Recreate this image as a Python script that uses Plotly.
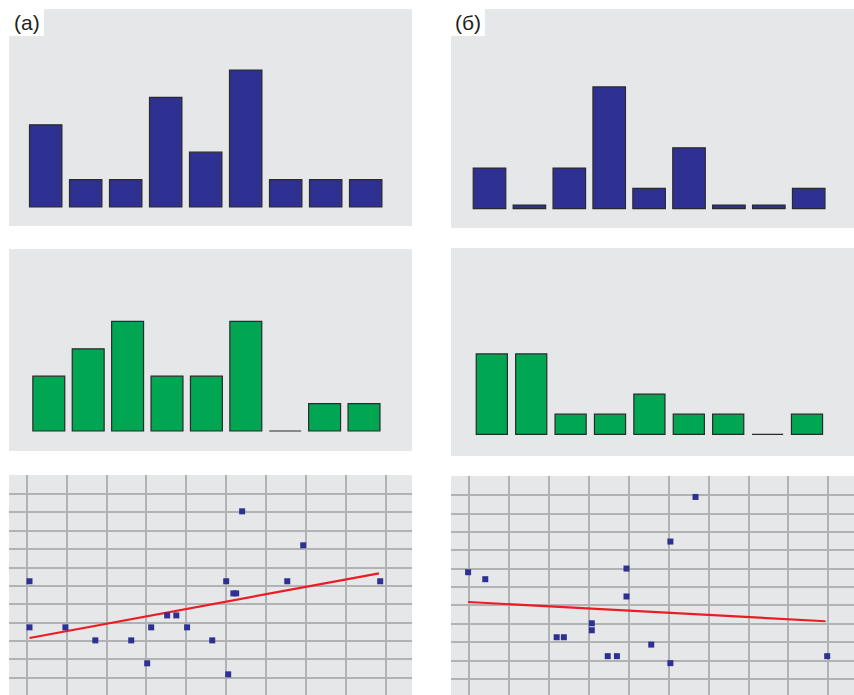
import plotly.graph_objects as go

W, H = 854, 695

# ---------------- data ----------------
categories = list(range(9))
top_a = [3, 1, 1, 4, 2, 5, 1, 1, 1]
top_b = [2, 0.18, 2, 6, 1, 3, 0.18, 0.18, 1]
mid_a = [2, 3, 4, 2, 2, 4, 0, 1, 1]
mid_b = [4, 4, 1, 1, 2, 1, 1, 0, 1]

scat_a_x = [0.07, 0.07, 0.97, 1.72, 2.62, 3.02, 3.12, 3.52, 3.75, 4.02, 4.65,
            5.0, 5.05, 5.18, 5.25, 5.40, 6.53, 6.93, 8.86]
scat_a_y = [6.25, 3.74, 3.74, 3.03, 3.03, 1.78, 3.74, 4.39, 4.39, 3.74, 3.03,
            6.25, 1.18, 5.59, 5.59, 10.06, 6.25, 8.21, 6.25]
trend_a_x = [0.07, 8.83]
trend_a_y = [3.16, 6.68]

scat_b_x = [-0.03, 0.40, 2.19, 2.37, 3.07, 3.07, 3.47, 3.70, 3.94, 3.94, 4.56,
            5.04, 5.04, 5.67, 8.97]
scat_b_y = [6.81, 6.43, 3.27, 3.27, 4.03, 3.65, 2.24, 2.24, 7.01, 5.49, 2.87,
            8.48, 1.86, 10.91, 2.24]
trend_b_x = [-0.03, 8.93]
trend_b_y = [5.19, 4.14]

labels = ["(а)", "(б)"]

# ---------------- style ----------------
BLUE = "#2e3192"
GREEN = "#00a651"
BG = "#e6e7e8"
GRID = "#b1b2b4"
RED = "#ed1c24"
OUTLINE = "#2a2a2c"


def dom_x(p0, p1):
    return [p0 / W, p1 / W]


def dom_y(p_top, p_bot):
    return [1 - p_bot / H, 1 - p_top / H]


panels = [
    dict(px=(9, 412), py=(9, 226), xr=[-0.9175, 9.1575], yr=[-0.693, 7.226]),
    dict(px=(451, 854), py=(9, 228), xr=[-0.965, 9.135], yr=[-0.951, 9.837]),
    dict(px=(9, 412), py=(249, 451), xr=[-1.010, 9.218], yr=[-0.730, 6.642]),
    dict(px=(451, 854), py=(248, 456), xr=[-1.036, 9.193], yr=[-1.08, 9.27]),
    dict(px=(9, 412), py=(475, 695), xr=[-0.4436, 9.657], yr=[0.054, 12.04]),
    dict(px=(451, 854), py=(476, 695), xr=[-0.4586, 9.642], yr=[0.125, 12.05]),
]

fig = go.Figure()
layout = dict(
    width=W, height=H, margin=dict(l=0, r=0, t=0, b=0),
    paper_bgcolor="white", plot_bgcolor=BG, showlegend=False,
    shapes=[], annotations=[],
)

for i, p in enumerate(panels):
    n = i + 1
    xa = "xaxis" if n == 1 else f"xaxis{n}"
    ya = "yaxis" if n == 1 else f"yaxis{n}"
    scatter = i >= 4
    layout[xa] = dict(
        domain=dom_x(*p["px"]), range=p["xr"], anchor=f"y{n if n > 1 else ''}",
        showticklabels=False, ticks="", zeroline=False, showline=False,
        showgrid=scatter, gridcolor=GRID, gridwidth=1.6, dtick=1, tick0=0,
        fixedrange=True,
    )
    layout[ya] = dict(
        domain=dom_y(*p["py"]), range=p["yr"], anchor=f"x{n if n > 1 else ''}",
        showticklabels=False, ticks="", zeroline=False, showline=False,
        showgrid=scatter, gridcolor=GRID, gridwidth=1.6, dtick=1, tick0=0,
        fixedrange=True,
    )

bar_sets = [(top_a, BLUE, 0.81), (top_b, BLUE, 0.815), (mid_a, GREEN, 0.81), (mid_b, GREEN, 0.79)]
for i, (vals, col, w) in enumerate(bar_sets):
    n = i + 1
    fig.add_trace(go.Bar(
        x=categories, y=vals, width=w,
        marker=dict(color=col, line=dict(color=OUTLINE, width=1.2)),
        xaxis=f"x{n if n > 1 else ''}", yaxis=f"y{n if n > 1 else ''}",
        hoverinfo="skip",
    ))

for n, (sx, sy, tx, ty) in [(5, (scat_a_x, scat_a_y, trend_a_x, trend_a_y)),
                            (6, (scat_b_x, scat_b_y, trend_b_x, trend_b_y))]:
    fig.add_trace(go.Scatter(
        x=tx, y=ty, mode="lines", line=dict(color=RED, width=2.2),
        xaxis=f"x{n}", yaxis=f"y{n}", hoverinfo="skip",
    ))
    fig.add_trace(go.Scatter(
        x=sx, y=sy, mode="markers",
        marker=dict(symbol="square", size=6, color=BLUE, line=dict(width=0)),
        xaxis=f"x{n}", yaxis=f"y{n}", hoverinfo="skip",
    ))

for (bx0, bx1, tx), lab in zip([(9, 44, 26.5), (451, 485, 467.5)], labels):
    layout["shapes"].append(dict(
        type="rect", xref="paper", yref="paper",
        x0=bx0 / W, x1=bx1 / W, y0=1 - 36 / H, y1=1 - 9 / H,
        fillcolor="white", line=dict(width=0), layer="above",
    ))
    layout["annotations"].append(dict(
        text=lab, xref="paper", yref="paper", x=tx / W, y=1 - 22.5 / H,
        xanchor="center", yanchor="middle", showarrow=False,
        font=dict(family="Liberation Sans, Arial, sans-serif", size=21, color="#231f20"),
    ))

fig.update_layout(**layout)
fig.write_html(
    "out.html",
    config={"displayModeBar": False},
    post_script="document.body.style.margin='0';document.body.style.overflow='hidden';",
)
